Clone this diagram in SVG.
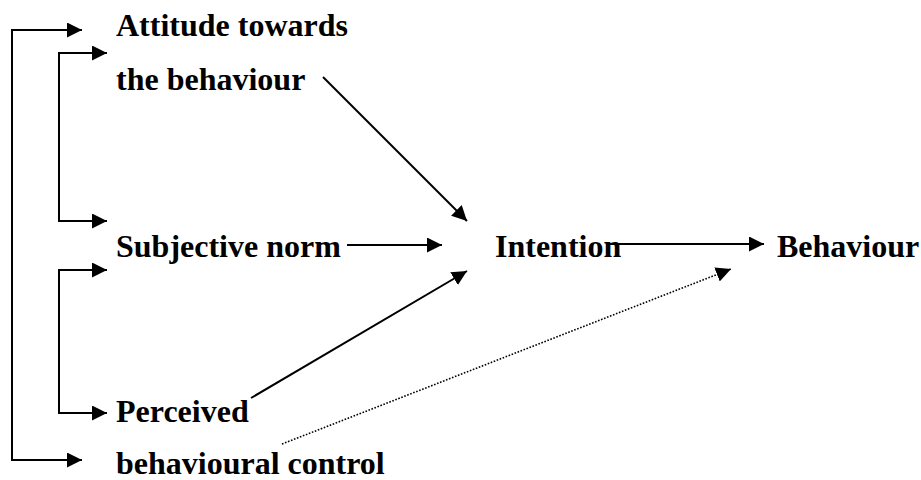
<svg xmlns="http://www.w3.org/2000/svg" width="921" height="480" viewBox="0 0 921 480">
<style>
  .t { font-family: 'Liberation Serif', 'Times New Roman', Times, serif; font-weight: bold; font-size: 32px; fill: #000; }
  .ln { stroke: #000; stroke-width: 2; fill: none; }
  .dot { stroke: #000; stroke-width: 1.6; fill: none; stroke-dasharray: 1.6 1.6; }
</style>
<defs>
  <marker id="ah" markerUnits="userSpaceOnUse" markerWidth="16" markerHeight="15" refX="15" refY="7.5" orient="auto-start-reverse" viewBox="0 0 16 15">
    <path d="M0,0 L15,7.5 L0,15 z" fill="#000"/>
  </marker>
</defs>
<rect width="921" height="480" fill="#fff"/>
<g id="connectors">
  <path class="ln" d="M82,30 H12 V460 H82" marker-start="url(#ah)" marker-end="url(#ah)"/>
  <path class="ln" d="M107,53 H59 V221 H107" marker-start="url(#ah)" marker-end="url(#ah)"/>
  <path class="ln" d="M107,270 H59 V413 H107" marker-start="url(#ah)" marker-end="url(#ah)"/>
  <line class="ln" x1="323" y1="77" x2="467" y2="221" marker-end="url(#ah)"/>
  <line class="ln" x1="347" y1="245" x2="442" y2="245" marker-end="url(#ah)"/>
  <line class="ln" x1="251" y1="398" x2="467" y2="271" marker-end="url(#ah)"/>
  <line class="ln" x1="610" y1="244" x2="764" y2="244" marker-end="url(#ah)"/>
  <line class="dot" x1="282" y1="444" x2="731" y2="269" marker-end="url(#ah)"/>
</g>
<g id="attitude">
  <text class="t" font-family="Liberation Serif, serif" x="116" y="36">Attitude towards</text>
  <text class="t" font-family="Liberation Serif, serif" x="116" y="90">the behaviour</text>
</g>
<g id="subjective-norm">
  <text class="t" font-family="Liberation Serif, serif" x="116" y="257">Subjective norm</text>
</g>
<g id="perceived-control">
  <text class="t" font-family="Liberation Serif, serif" x="116" y="422">Perceived</text>
  <text class="t" font-family="Liberation Serif, serif" x="116" y="474">behavioural control</text>
</g>
<g id="intention">
  <text class="t" font-family="Liberation Serif, serif" x="495" y="257">Intention</text>
</g>
<g id="behaviour">
  <text class="t" font-family="Liberation Serif, serif" x="777" y="257">Behaviour</text>
</g>
</svg>
